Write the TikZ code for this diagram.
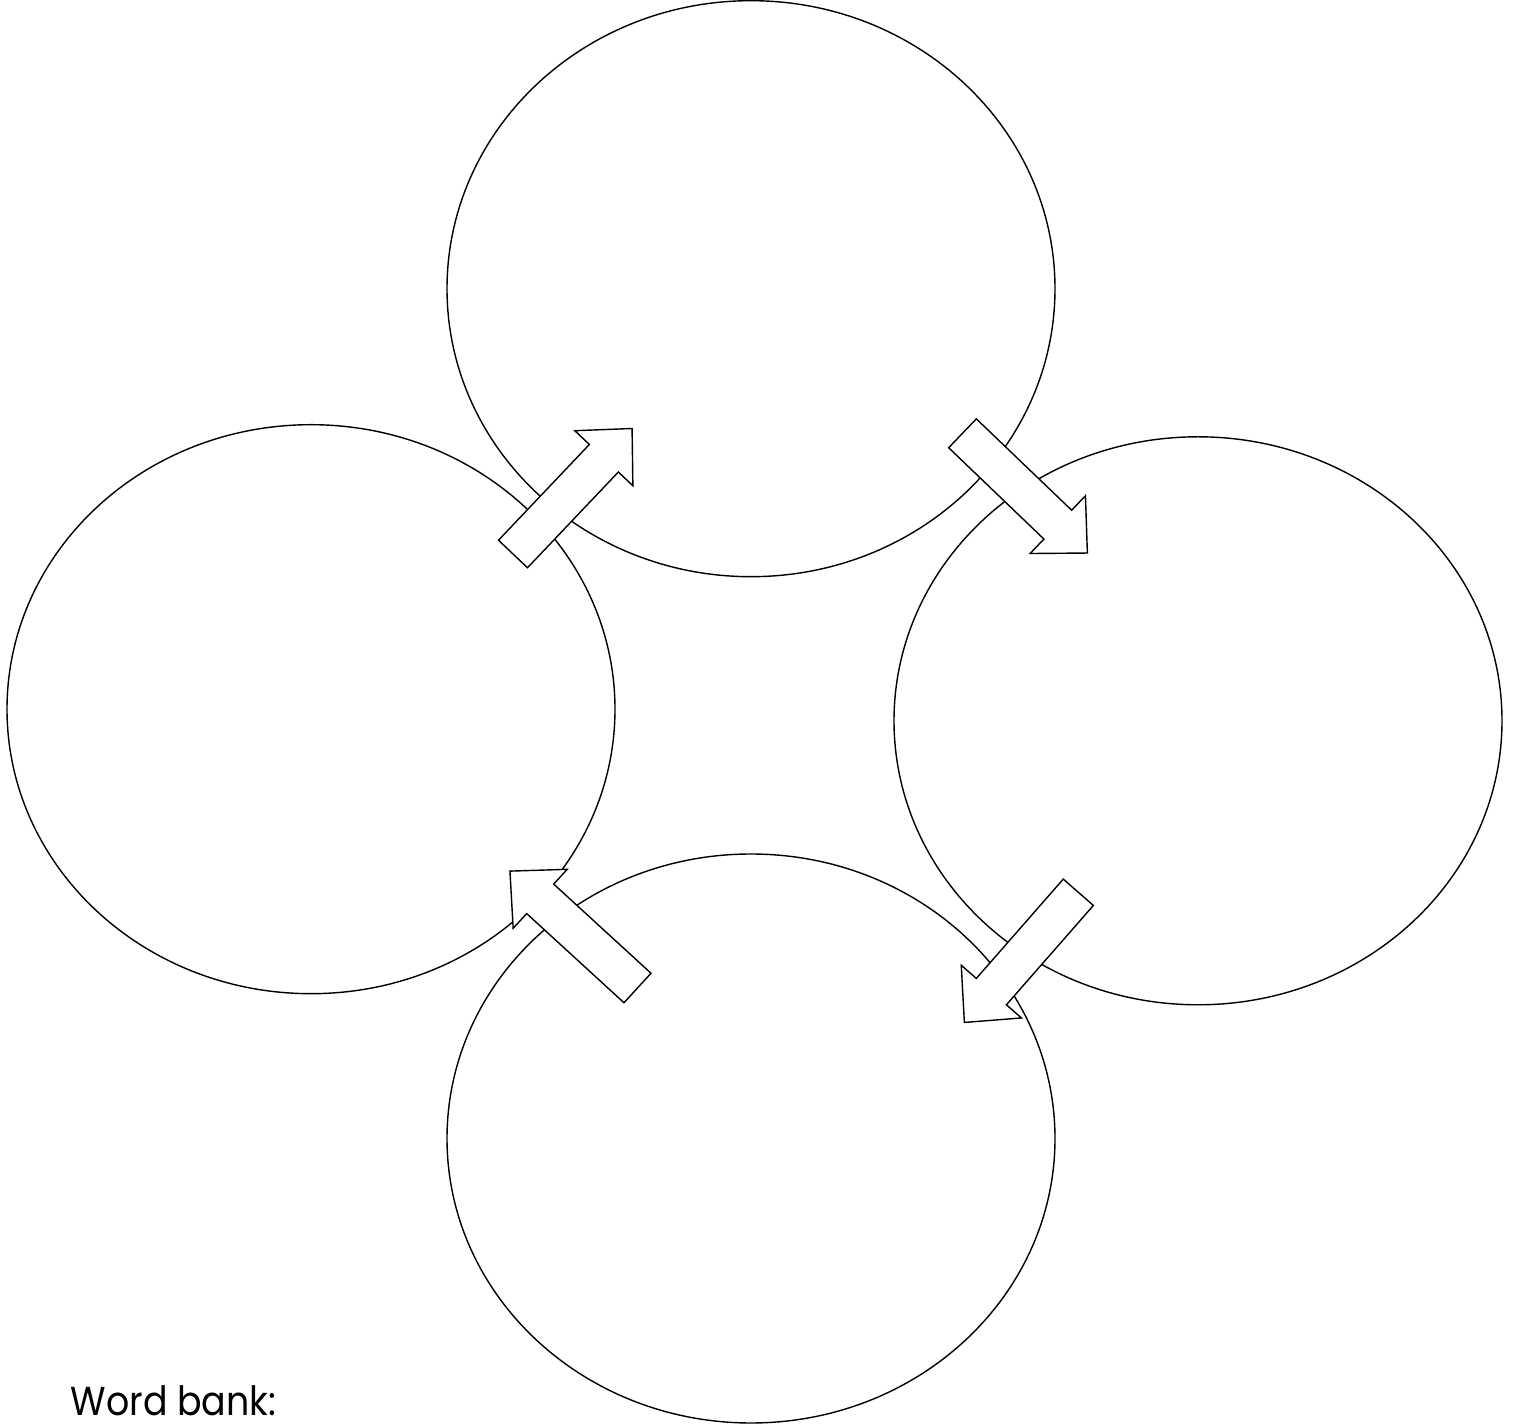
\documentclass[tikz,border=0pt]{standalone}
\usepackage{fontspec}
\setmainfont{Poppins}
\usetikzlibrary{shapes.geometric}

\tikzset{
  bubble/.style={draw,ellipse,inner sep=0pt,minimum width=60.8mm},
  blockarrow/.style={draw,fill=white,line join=miter}
}

\begin{document}
\begin{tikzpicture}[x=0.1mm,y=-0.1mm]

    % Batas gambar
    \useasboundingbox (0,0) rectangle (1514,1426);

    % Gambar empat elips
    \node[bubble,minimum height=57.6mm] (top) at (751,288.7) {};
    \node[bubble,minimum height=56.9mm] (left) at (311,709.2) {};
    \node[bubble,minimum height=56.8mm] (right) at (1198,720.8) {};
    \node[bubble,minimum height=56.9mm] (bottom) at (751,1138.5) {};

    % Gambar panah blok di antara elips
    \draw[blockarrow,shift={(513,554)},rotate=46.5]
        (0,-20)--(132,-20)--(132,-40)--(173,0)--(132,40)--(132,20)--(0,20)--cycle;
    \draw[blockarrow,shift={(962.5,433.3)},rotate=-43.8]
        (0,-20)--(132,-20)--(132,-40)--(173,0)--(132,40)--(132,20)--(0,20)--cycle;
    \draw[blockarrow,shift={(1078.3,892.3)},rotate=-131.2]
        (0,-20)--(132,-20)--(132,-40)--(173,0)--(132,40)--(132,20)--(0,20)--cycle;
    \draw[blockarrow,shift={(637.5,988)},rotate=137.5]
        (0,-20)--(132,-20)--(132,-40)--(173,0)--(132,40)--(132,20)--(0,20)--cycle;

    % Tulisan di pojok kiri bawah
    \node[anchor=base west,inner sep=0pt,font=\fontsize{11.5}{13}\selectfont] (bank) at (70,1416) {\scalebox{0.9}[1]{Word bank:}};

\end{tikzpicture}
\end{document}
